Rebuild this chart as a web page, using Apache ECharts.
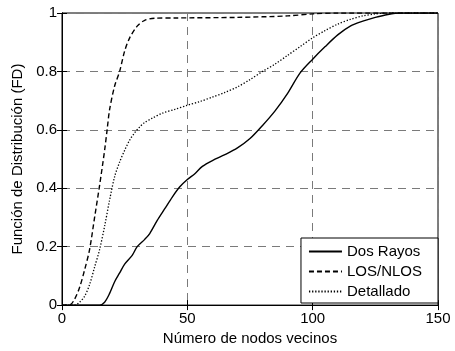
<!DOCTYPE html>
<html>
<head>
<meta charset="utf-8">
<script src="https://cdn.jsdelivr.net/npm/echarts@6/dist/echarts.min.js"></script>
<style>
  html, body { margin: 0; padding: 0; background: #fff; }
  #chart { width: 455px; height: 351px; }
</style>
</head>
<body>
<div id="chart"></div>
<script>
// values
const dosRayosX = [0, 15, 17, 19, 21, 23, 25, 28, 30, 33, 35, 38, 41, 44, 47, 50, 53, 56, 60, 65, 70, 75, 80, 85, 90, 95, 100, 105, 110, 115, 120, 125, 130, 135, 150];
const dosRayosY = [0, 0, 0.01, 0.04, 0.08, 0.11, 0.14, 0.17, 0.2, 0.225, 0.245, 0.29, 0.33, 0.37, 0.405, 0.43, 0.45, 0.475, 0.495, 0.515, 0.538, 0.57, 0.615, 0.665, 0.725, 0.795, 0.842, 0.885, 0.925, 0.955, 0.972, 0.985, 0.995, 1, 1];

const losX = [0, 3, 5, 7, 9, 11, 13, 15, 17, 18, 19, 21, 23, 25, 27, 30, 33, 37, 45, 70, 90, 100, 110, 150];
const losY = [0, 0, 0.02, 0.06, 0.12, 0.19, 0.3, 0.41, 0.53, 0.6, 0.67, 0.75, 0.8, 0.87, 0.915, 0.955, 0.975, 0.982, 0.983, 0.985, 0.99, 0.997, 1, 1];

const detalladoX = [0, 5, 7, 9, 11, 13, 15, 17, 19, 21, 23, 25, 27, 29, 31, 33, 36, 40, 45, 50, 55, 60, 65, 70, 75, 80, 85, 90, 95, 100, 105, 110, 115, 120, 125, 130, 150];
const detalladoY = [0, 0, 0.01, 0.03, 0.07, 0.13, 0.19, 0.27, 0.36, 0.44, 0.49, 0.53, 0.565, 0.59, 0.61, 0.625, 0.64, 0.657, 0.67, 0.684, 0.697, 0.712, 0.728, 0.747, 0.772, 0.8, 0.825, 0.855, 0.885, 0.915, 0.94, 0.962, 0.978, 0.99, 0.997, 1, 1];

const xTicks = [0, 50, 100, 150];
const yTicks = [0, 0.2, 0.4, 0.6, 0.8, 1];

const pairs = (xs, ys) => xs.map((x, i) => [x, ys[i]]);

const FONT = "Liberation Sans, Arial, sans-serif";

const tick = { show: true, inside: true, length: 5, lineStyle: { color: "#000", width: 1 } };
const grid = { show: true, lineStyle: { color: "#7a7a7a", type: [8, 6], width: 1 } };

const chart = echarts.init(document.getElementById("chart"));
chart.setOption({
  animation: false,
  backgroundColor: "#fff",
  textStyle: { fontFamily: FONT },
  grid: {
    left: 62, right: 17, top: 13, bottom: 42,
    show: true, borderColor: "#000", borderWidth: 1, backgroundColor: "#fff"
  },
  legend: {
    right: 17, top: 238,
    orient: "vertical",
    align: "left",
    itemWidth: 33, itemHeight: 12, itemGap: 5,
    padding: [6, 16, 4, 7],
    backgroundColor: "#fff",
    borderColor: "#000", borderWidth: 1, borderRadius: 0,
    itemStyle: { opacity: 0 },
    textStyle: { fontSize: 15, color: "#000", fontFamily: FONT },
    data: ["Dos Rayos", "LOS/NLOS", "Detallado"]
  },
  xAxis: [{
    type: "value", min: 0, max: 150, interval: 50,
    name: "Número de nodos vecinos", nameLocation: "middle", nameGap: 23,
    nameTextStyle: { fontSize: 15, color: "#000", fontFamily: FONT },
    axisLine: { show: true, lineStyle: { color: "#000", width: 1 } },
    axisTick: tick,
    axisLabel: { fontSize: 15, color: "#000", margin: 6, fontFamily: FONT,
      formatter: v => xTicks.indexOf(v) >= 0 ? String(v) : "" },
    splitLine: grid
  }, {
    type: "value", min: 0, max: 150, interval: 50, position: "top",
    axisLine: { show: true, lineStyle: { color: "#000" } },
    axisTick: tick, axisLabel: { show: false }, splitLine: { show: false }
  }],
  yAxis: [{
    type: "value", min: 0, max: 1, interval: 0.2,
    name: "Función de Distribución (FD)", nameLocation: "middle", nameGap: 29,
    nameTextStyle: { fontSize: 15, color: "#000", fontFamily: FONT },
    axisLine: { show: true, lineStyle: { color: "#000", width: 1 } },
    axisTick: tick,
    axisLabel: { fontSize: 15, color: "#000", margin: 5, fontFamily: FONT,
      formatter: v => String(+v.toFixed(1)) },
    splitLine: grid
  }, {
    type: "value", min: 0, max: 1, interval: 0.2, position: "right",
    axisLine: { show: true, lineStyle: { color: "#000" } },
    axisTick: tick, axisLabel: { show: false }, splitLine: { show: false }
  }],
  series: [
    {
      name: "Dos Rayos", type: "line", symbol: "none",
      data: pairs(dosRayosX, dosRayosY), smooth: 0.3,
      lineStyle: { color: "#000", width: 1.4, type: "solid" },
      itemStyle: { color: "#000" }
    },
    {
      name: "LOS/NLOS", type: "line", symbol: "none",
      data: pairs(losX, losY), smooth: 0.3,
      lineStyle: { color: "#000", width: 1.4, type: [5, 3] },
      itemStyle: { color: "#000" }
    },
    {
      name: "Detallado", type: "line", symbol: "none",
      data: pairs(detalladoX, detalladoY), smooth: 0.3,
      lineStyle: { color: "#000", width: 1.3, type: [1.3, 1.8] },
      itemStyle: { color: "#000" }
    }
  ]
});
</script>
</body>
</html>
